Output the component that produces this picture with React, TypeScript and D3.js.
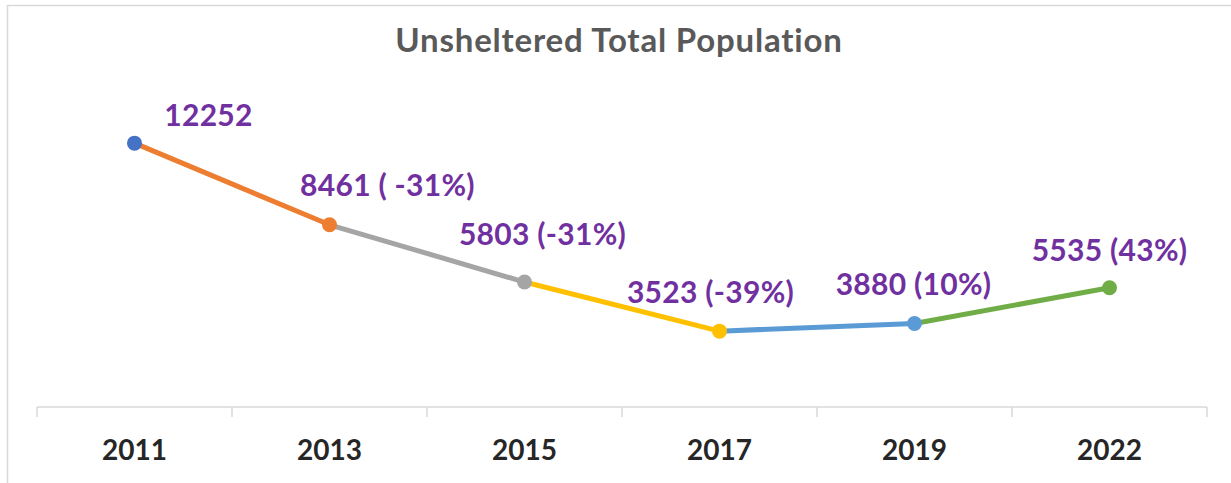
import React from "react";
import * as d3 from "d3";

const years: string[] = ["2011", "2013", "2015", "2017", "2019", "2022"];
const values: number[] = [12252, 8461, 5803, 3523, 3880, 5535];
const labels: string[] = ["12252", "8461 ( -31%)", "5803 (-31%)", "3523 (-39%)", "3880 (10%)", "5535 (43%)"];
const pointColors: string[] = ["#4472C4", "#ED7D31", "#A5A5A5", "#FFC000", "#5B9BD5", "#70AD47"];
// label placement offsets (dx, dy) relative to each point
const labelDx: number[] = [74, 58, 18, -9, -1, 0];
const labelDy: number[] = [-17, -29, -37, -28, -28, -27];

const W = 1231;
const H = 483;

export default function App() {
  const x = d3.scaleBand<string>().domain(years).range([37, 1207]);
  const y = d3.scaleLinear().domain([0, 14000]).range([407, 105.5]);
  const cx = (i: number) => (x(years[i]) as number) + x.bandwidth() / 2;
  const line = d3.line<[number, number]>();
  const font = "Lato, 'Open Sans', sans-serif";
  const ticks = [...years.map((yr) => x(yr) as number), 1207];

  return (
    <svg width={W} height={H} style={{ position: "absolute", left: 0, top: 0, background: "#fff" }}>
      <rect x={0} y={0} width={W} height={H} fill="#fff" />
      <line x1={7} y1={5.5} x2={W} y2={5.5} stroke="#D9D9D9" strokeWidth={1.5} />
      <line x1={7.5} y1={5} x2={7.5} y2={H} stroke="#D9D9D9" strokeWidth={1.5} />
      <text x={619} y={52} textAnchor="middle" fontFamily={font} fontWeight="bold" fontSize={33} letterSpacing={0.8} fill="#595959">
        Unsheltered Total Population
      </text>
      <line x1={37} y1={407} x2={1207} y2={407} stroke="#D9D9D9" strokeWidth={1.5} />
      {ticks.map((t, i) => (
        <line key={"t" + i} x1={t} y1={407} x2={t} y2={417} stroke="#D9D9D9" strokeWidth={1.5} />
      ))}
      {years.map((yr, i) => (
        <text key={"x" + i} x={cx(i)} y={460} textAnchor="middle" fontFamily={font} fontWeight="bold" fontSize={28} fill="#262626">
          {yr}
        </text>
      ))}
      {values.slice(1).map((v, k) => {
        const i = k + 1;
        const d = line([
          [cx(i - 1), y(values[i - 1])],
          [cx(i), y(v)],
        ]) as string;
        return <path key={"s" + i} d={d} stroke={pointColors[i]} strokeWidth={5} fill="none" strokeLinecap="round" />;
      })}
      {values.map((v, i) => (
        <circle key={"c" + i} cx={cx(i)} cy={y(v)} r={7.5} fill={pointColors[i]} />
      ))}
      {values.map((v, i) => (
        <text key={"l" + i} x={cx(i) + labelDx[i]} y={y(v) + labelDy[i]} textAnchor="middle" fontFamily={font} fontWeight="bold" fontSize={30} letterSpacing={0.3} fill="#7030A0">
          {labels[i]}
        </text>
      ))}
    </svg>
  );
}
